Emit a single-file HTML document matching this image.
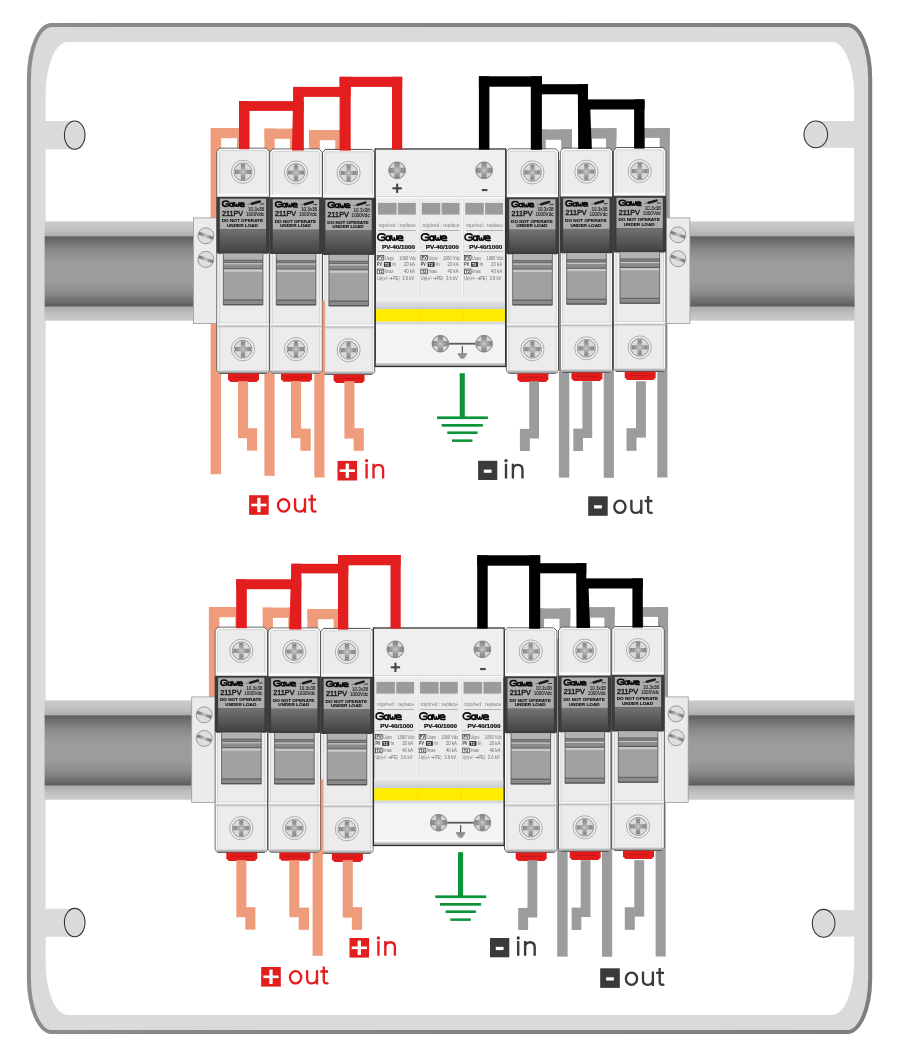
<!DOCTYPE html>
<html><head><meta charset="utf-8"><title>Fuse / SPD wiring diagram</title>
<style>html,body{margin:0;padding:0;background:#fff}svg{display:block}text{font-family:"Liberation Sans",sans-serif}.lbl{font-family:"Liberation Sans",sans-serif}</style></head><body>
<svg style="will-change:transform" width="900" height="1055" viewBox="0 0 900 1055">
<defs>
<linearGradient id="frG" x1="0" y1="0" x2="1" y2="0"><stop offset="0" stop-color="#8c8c8c"/><stop offset="0.5" stop-color="#848484"/><stop offset="1" stop-color="#7e7e7e"/></linearGradient>
<linearGradient id="flT" x1="0" y1="0" x2="0" y2="1"><stop offset="0" stop-color="#cbcbcb"/><stop offset="0.5" stop-color="#c2c2c2"/><stop offset="1" stop-color="#adadad"/></linearGradient>
<linearGradient id="flB" x1="0" y1="0" x2="0" y2="1"><stop offset="0" stop-color="#aaaaaa"/><stop offset="0.5" stop-color="#c0c0c0"/><stop offset="1" stop-color="#cbcbcb"/></linearGradient>
<linearGradient id="railCore" x1="0" y1="0" x2="0" y2="1">
<stop offset="0" stop-color="#5c5c5c"/><stop offset="0.07" stop-color="#6f6e6d"/><stop offset="0.2" stop-color="#8a8988"/><stop offset="0.36" stop-color="#9b9b9b"/><stop offset="0.64" stop-color="#9c9c9c"/><stop offset="0.8" stop-color="#8d8b8a"/><stop offset="0.93" stop-color="#6f6d6b"/><stop offset="1" stop-color="#585858"/></linearGradient>
<linearGradient id="hdlG" x1="0" y1="0" x2="0" y2="1"><stop offset="0" stop-color="#727272"/><stop offset="1" stop-color="#434343"/></linearGradient>
<linearGradient id="divG" x1="0" y1="0" x2="0" y2="1"><stop offset="0" stop-color="#b2b2b2"/><stop offset="1" stop-color="#e6e6e6"/></linearGradient>
<linearGradient id="botG" x1="0" y1="0" x2="0" y2="1"><stop offset="0" stop-color="#ececec"/><stop offset="1" stop-color="#8f8f8f"/></linearGradient>
<linearGradient id="spdBand" x1="0" y1="0" x2="0" y2="1"><stop offset="0" stop-color="#e7e7e7"/><stop offset="1" stop-color="#c6cad0"/></linearGradient>
<radialGradient id="scrG" cx="0.5" cy="0.5" r="0.5"><stop offset="0" stop-color="#d6d6d6"/><stop offset="1" stop-color="#c2c2c2"/></radialGradient>
<radialGradient id="scr2G" cx="0.5" cy="0.5" r="0.5"><stop offset="0" stop-color="#c4c4c4"/><stop offset="0.8" stop-color="#a6a6a6"/><stop offset="1" stop-color="#8e8e8e"/></radialGradient>

<filter id="bl" x="-20%" y="-20%" width="140%" height="140%"><feGaussianBlur stdDeviation="0.38"/></filter>
<radialGradient id="crG" gradientUnits="userSpaceOnUse" cx="0" cy="0" r="8.2"><stop offset="0" stop-color="#c8c8c8"/><stop offset="0.3" stop-color="#adadad"/><stop offset="0.62" stop-color="#939393"/><stop offset="1" stop-color="#878787"/></radialGradient>
<clipPath id="c9"><circle r="8.6"/></clipPath>
<clipPath id="c8"><circle r="8.3"/></clipPath>
<g id="scr">
<circle r="11.6" fill="#efefef" stroke="#a4a4a4" stroke-width="0.9"/>
<circle r="9" fill="#dadada" stroke="#949494" stroke-width="1"/>
<g clip-path="url(#c9)"><path filter="url(#bl)" d="M-2.1,-8 h4.2 v5.9 h5.9 v4.2 h-5.9 v5.9 h-4.2 v-5.9 h-5.9 v-4.2 h5.9z" fill="url(#crG)"/></g>
</g>
<g id="scr2">
<circle r="8.7" fill="#d6d6d6"/>
<g clip-path="url(#c8)"><path filter="url(#bl)" d="M-2.6,-9 h5.2 v6.4 h6.4 v5.2 h-6.4 v6.4 h-5.2 v-6.4 h-6.4 v-5.2 h6.4z" fill="url(#crG)"/></g>
<circle r="8.3" fill="none" stroke="#858585" stroke-width="1"/>
</g>
<linearGradient id="slG" gradientUnits="userSpaceOnUse" x1="-7" y1="-2.6" x2="7" y2="2.6"><stop offset="0" stop-color="#6e6e6e"/><stop offset="0.3" stop-color="#9a9a9a"/><stop offset="0.5" stop-color="#c8c8c8"/><stop offset="0.7" stop-color="#9a9a9a"/><stop offset="1" stop-color="#6e6e6e"/></linearGradient>
<clipPath id="c7"><circle r="7.4"/></clipPath>
<g id="slot">
<circle r="8" fill="#dedede" stroke="#989898" stroke-width="1"/>
<g clip-path="url(#c7)"><path filter="url(#bl)" d="M-8,-4.6 L8.4,1.2 L7.4,4.2 L-9,-1.6 Z" fill="url(#slG)"/></g>
</g>

<g id="fuse">
<path d="M3,0 H49.2 L52.2,3 V222.6 L49.6,225.2 H2.6 L0,222.6 V3 Z" fill="#ececec" stroke="#4c4c4c" stroke-width="1"/>
<path d="M3.4,1.25 H48.8 L50.95,3.4 V222.1 L49.1,223.95 H3.1 L1.25,222.1 V3.4 Z" fill="none" stroke="#fafafa" stroke-width="1.5"/>
<path d="M3.9,2.4 H48.3 L49.8,3.9 V221.6 L48.6,222.8 H3.6 L2.4,221.6 V3.9 Z" fill="none" stroke="#bcbcbc" stroke-width="0.55"/>
<rect x="0.8" y="45.4" width="50.6" height="3.2" fill="#f9f9f9"/>
<use href="#scr" x="26.1" y="23.6"/>
<path d="M-0.3,48.5 H52.5 V103.4 Q52.5,105.6 50.3,105.6 H1.9 Q-0.3,105.6 -0.3,103.4 Z" fill="#3b3b3b"/>
<rect x="2.9" y="50.5" width="46.3" height="30.6" fill="#adadad"/>
<rect x="2.9" y="81.1" width="46.3" height="22.8" fill="url(#hdlG)"/>
<g fill="#111">
<use href="#logo" stroke-width="1.85" transform="translate(5,58.7) scale(0.865,0.82)"/>
<text x="5.1" y="67.6" font-size="7.1" fill="#1a1a1a" stroke="#1a1a1a" stroke-width="0.42" textLength="21.2" lengthAdjust="spacingAndGlyphs">211PV</text>
<text x="31.1" y="62.7" font-size="4.7" fill="#161616" stroke="#161616" stroke-width="0.08" textLength="16.1" lengthAdjust="spacingAndGlyphs">10.3x38</text>
<text x="29.1" y="67.7" font-size="4.7" fill="#161616" stroke="#161616" stroke-width="0.08" textLength="18.1" lengthAdjust="spacingAndGlyphs">1000Vdc</text>
<text x="4.8" y="74.2" font-size="4.3" font-weight="bold" stroke="#111" stroke-width="0.12" textLength="41.4" lengthAdjust="spacingAndGlyphs">DO NOT OPERATE</text>
<text x="10.1" y="78.75" font-size="4.3" font-weight="bold" stroke="#111" stroke-width="0.12" textLength="31" lengthAdjust="spacingAndGlyphs">UNDER LOAD</text>
<path d="M30.8,56.2 L35,55.6" stroke="#555" stroke-width="0.7" fill="none"/>
<path d="M35,55.5 L42.8,53.3" stroke="#1c1c1c" stroke-width="2.5" stroke-linecap="round" fill="none"/>
<path d="M43.4,55.9 L47.3,55.7" stroke="#333" stroke-width="1" fill="none"/>
</g>
<rect x="6.4" y="105.6" width="39.6" height="51.2" fill="#a1a1a1"/>
<rect x="6.4" y="105.6" width="39.6" height="6" fill="#b2b2b2"/>
<rect x="6.4" y="111.5" width="39.6" height="3.5" fill="#6a6a6a"/>
<rect x="6.4" y="112.9" width="39.6" height="0.7" fill="#909090"/>
<rect x="6.4" y="115" width="39.6" height="1.3" fill="#c9c9c9"/>
<rect x="6.4" y="116.3" width="39.6" height="3.7" fill="#8b8b8b"/>
<rect x="6.4" y="120" width="39.6" height="1.2" fill="#5a5a5a"/>
<rect x="6.4" y="121.2" width="39.6" height="2.3" fill="#c9c9c9"/>
<rect x="6.4" y="151.1" width="39.6" height="1.6" fill="#686868"/>
<rect x="6.4" y="152.7" width="39.6" height="3.1" fill="#8b8b8b"/>
<rect x="6.4" y="155.8" width="39.6" height="1" fill="#555"/>
<path d="M6.4,105.6 V156.8 H46 V105.6" fill="none" stroke="#565656" stroke-width="0.8"/>
<rect x="0.5" y="174.6" width="51.2" height="0.6" fill="#b8b8b8"/>
<rect x="0.5" y="175.2" width="51.2" height="2" fill="#fafafa"/>
<rect x="0.5" y="177.2" width="51.2" height="2.6" fill="url(#divG)"/>
<use href="#scr" x="26.1" y="201"/>
<rect x="0.6" y="221.6" width="51" height="3.2" fill="url(#botG)"/>
<path d="M11.1,225.4 H42.1 V231.4 L39.6,233.9 H13.6 L11.1,231.4 Z" fill="#e31b1b"/>
<rect x="16" y="228.7" width="21.2" height="1.1" fill="#c51717"/>
</g>

<g id="spdmod">
<rect x="2.9" y="53.8" width="18.5" height="11.7" fill="#9b9b9b"/>
<rect x="22.7" y="53.8" width="17.9" height="11.7" fill="#9b9b9b"/>
<text x="3.5" y="77.8" font-size="4.9" fill="#808080" textLength="37.1" lengthAdjust="spacingAndGlyphs">rojo/red : replace</text>
<rect x="3.5" y="81.2" width="37.1" height="0.6" fill="#8c8c8c"/>
<use href="#logo" stroke-width="1.62" x="1.9" y="91.9"/>
<text x="6.8" y="100.3" font-size="5.5" font-weight="bold" fill="#111" stroke="#111" stroke-width="0.22" textLength="33.1" lengthAdjust="spacingAndGlyphs">PV-40/1000</text>
<rect x="2" y="102" width="38.6" height="0.6" fill="#9a9a9a"/>
<g font-size="4.5" fill="#6f6f6f">
<rect x="2" y="106.3" width="6.6" height="4.6" fill="#f4f4f4" stroke="#333" stroke-width="0.7"/>
<text x="2.9" y="110.1" font-size="3.8" font-weight="bold" fill="#222">PV</text>
<text x="9.7" y="110.6" textLength="9" lengthAdjust="spacingAndGlyphs">Uopv</text>
<text x="24" y="110.6" textLength="17" lengthAdjust="spacingAndGlyphs">1060 Vdc</text>
<text x="1.9" y="117.4" font-weight="bold" fill="#333" textLength="4.8" lengthAdjust="spacingAndGlyphs">PV</text>
<rect x="8.7" y="113" width="7" height="4.7" fill="#333"/>
<text x="9.6" y="116.8" font-size="3.8" font-weight="bold" fill="#fff">T2</text>
<text x="17" y="117.4">In</text>
<text x="28.7" y="117.4" textLength="11" lengthAdjust="spacingAndGlyphs">20 kA</text>
<rect x="2" y="120" width="6.6" height="4.7" fill="#f4f4f4" stroke="#333" stroke-width="0.7"/>
<text x="3" y="123.8" font-size="3.8" font-weight="bold" fill="#222">T2</text>
<text x="9.7" y="124.3" textLength="8.7" lengthAdjust="spacingAndGlyphs">Imax</text>
<text x="28.7" y="124.3" textLength="11" lengthAdjust="spacingAndGlyphs">40 kA</text>
<text x="1.9" y="130.6" textLength="22.5" lengthAdjust="spacingAndGlyphs">Up(+/- ➔PE)</text>
<text x="27" y="130.6" textLength="12" lengthAdjust="spacingAndGlyphs">3.6 kV</text>
</g>
</g>

<g id="spd">
<rect x="0" y="0" width="130.5" height="217.3" fill="#ebebeb" stroke="#2e2e2e" stroke-width="1.5"/>
<rect x="0.6" y="0.6" width="129.3" height="46.6" fill="#efefef"/>
<rect x="0.6" y="47.2" width="129.3" height="0.7" fill="#cfcfcf"/>
<rect x="0.6" y="47.9" width="129.3" height="1.2" fill="#f8f8f8"/>
<use href="#scr2" x="21.9" y="21.2"/>
<use href="#scr2" x="108.9" y="21.2"/>
<rect x="17.3" y="38.15" width="9.3" height="2.1" fill="#454545"/><rect x="20.9" y="34.55" width="2.1" height="9.3" fill="#454545"/>
<rect x="106.6" y="39.9" width="5.6" height="2.1" fill="#484848"/>
<rect x="43.3" y="48" width="1.3" height="112" fill="#f7f7f7"/><rect x="44.3" y="48" width="0.4" height="112" fill="#c9c9c9"/>
<rect x="86.8" y="48" width="1.3" height="112" fill="#f7f7f7"/><rect x="87.8" y="48" width="0.4" height="112" fill="#c9c9c9"/>
<use href="#spdmod" x="0" y="0"/><use href="#spdmod" x="43.7" y="0"/><use href="#spdmod" x="87.2" y="0"/>
<rect x="0.75" y="150.6" width="129" height="0.8" fill="#f8f8f8"/><rect x="0.75" y="151.4" width="129" height="8.7" fill="url(#spdBand)"/>
<rect x="0.75" y="160" width="129" height="12.6" fill="#ffec00"/>
<rect x="43.9" y="160.1" width="0.5" height="12.5" fill="#ecd900"/><rect x="87.4" y="160.1" width="0.5" height="12.5" fill="#ecd900"/>
<rect x="0.75" y="175.2" width="129" height="36.6" fill="#f3f3f3"/><rect x="0.75" y="172.6" width="129" height="2.6" fill="#d5d9e0"/>
<rect x="65.2" y="193.7" width="43.7" height="1.8" fill="#5c5c5c"/>
<use href="#scr2" x="65.2" y="194.6"/>
<use href="#scr2" x="108.9" y="194.6"/>
<rect x="86.6" y="197" width="1.1" height="7.6" fill="#484848"/>
<rect x="82.6" y="204.2" width="9.1" height="1.5" fill="#757575"/><rect x="83.6" y="206.1" width="7.1" height="1.6" fill="#7d7d7d"/><rect x="84.9" y="208" width="4.4" height="1.5" fill="#858585"/>
<rect x="0.6" y="211.7" width="129.3" height="1.8" fill="#fbfbfb"/>
<rect x="0.6" y="213.5" width="129.3" height="3.3" fill="url(#botG)"/>
</g>
<g id="wIn" fill="none" stroke="currentColor" stroke-width="2.35">
<path d="M1.2,-14.7 V0 M8.1,-14.7 V0 M8.1,-8.4 C8.1,-11.9 10.3,-13.5 13,-13.5 C15.8,-13.5 17.7,-11.9 17.7,-8.4 V0"/>
<circle cx="1.2" cy="-17.7" r="1.65" stroke="none" fill="currentColor"/>
</g>
<g id="wOut" fill="none" stroke="currentColor" stroke-width="2.35">
<ellipse cx="6.8" cy="-7.3" rx="5.6" ry="6.15"/>
<path d="M18.3,-14.4 V-5.8 C18.3,-2.7 20.2,-1.15 22.9,-1.15 C25.8,-1.15 28.2,-3.2 28.2,-6.6 M28.2,-14.4 V0"/>
<path d="M35,-18 V-4.2 C35,-2 36.1,-1.15 37.6,-1.15 C38.4,-1.15 39,-1.35 39.5,-1.7 M31.5,-13.1 H39.3"/>
</g>
<g id="logo" fill="none" stroke="#0a0a0a" stroke-linecap="round" stroke-linejoin="round">
<path d="M7.9,-5.9 C6.9,-6.9 5.6,-7.1 4.3,-7.1 C1.9,-7.1 0.7,-5.6 0.7,-3.8 C0.7,-1.9 1.9,-0.65 4.3,-0.65 C5.8,-0.65 7,-0.8 7.8,-1.4 V-3.6 H4.7"/>
<ellipse cx="10.9" cy="-2.75" rx="1.95" ry="2.1"/><path d="M13.2,-5.1 V-0.5"/>
<path d="M14.6,-5.1 C14.6,-2.2 15.2,-0.8 16.1,-0.8 C16.9,-0.8 17.2,-2 17.2,-3.2 C17.2,-2 17.6,-0.8 18.4,-0.8 C19.3,-0.8 19.8,-2.4 19.8,-5.1"/>
<path d="M20.5,-2.85 H25.7 C25.7,-4.4 24.7,-5.1 23.2,-5.1 C21.5,-5.1 20.5,-4.2 20.5,-2.85 C20.5,-1.35 21.5,-0.65 23.2,-0.65 H25.9"/>
</g>
</defs>

<rect x="0.00" y="0.00" width="900.00" height="1055.00" fill="#fff" />
<rect x="26.9" y="22.9" width="845.3" height="1011" rx="24.5" ry="55" fill="url(#frG)"/>
<rect x="30.95" y="26.9" width="837.2" height="1003.2" rx="21" ry="51.5" fill="#dadada"/>
<rect x="45.6" y="41.9" width="808.5" height="973" rx="22" ry="53" fill="#fff"/>
<rect x="44.00" y="121.00" width="30.70" height="28.30" fill="#dadada" />
<ellipse cx="74.7" cy="135.1" rx="10.3" ry="14.2" fill="#dadada" stroke="#303030" stroke-width="1.05"/>
<rect x="815.80" y="121.00" width="39.20" height="26.80" fill="#dadada" />
<ellipse cx="815.8" cy="134.4" rx="11.8" ry="13.3" fill="#dadada" stroke="#303030" stroke-width="1.05"/>
<rect x="44.00" y="908.80" width="30.70" height="28.00" fill="#dadada" />
<ellipse cx="74.7" cy="922.6" rx="10.3" ry="14.2" fill="#dadada" stroke="#303030" stroke-width="1.05"/>
<rect x="823.60" y="910.10" width="31.40" height="26.50" fill="#dadada" />
<ellipse cx="823.6" cy="923.3" rx="11.3" ry="13.9" fill="#dadada" stroke="#303030" stroke-width="1.05"/>
<g id="asmTop"><rect x="44.60" y="221.40" width="149.40" height="14.80" fill="url(#flT)" /><rect x="44.60" y="236.20" width="149.40" height="70.60" fill="url(#railCore)" /><rect x="44.60" y="306.80" width="149.40" height="13.90" fill="url(#flB)" />
<rect x="689.50" y="221.40" width="165.10" height="14.80" fill="url(#flT)" /><rect x="689.50" y="236.20" width="165.10" height="70.60" fill="url(#railCore)" /><rect x="689.50" y="306.80" width="165.10" height="13.90" fill="url(#flB)" />
<rect x="211.00" y="128.00" width="36.00" height="10.20" fill="#ef9c7d" />
<rect x="237.00" y="128.00" width="10.00" height="22.00" fill="#ef9c7d" />
<rect x="264.50" y="128.60" width="35.50" height="10.20" fill="#ef9c7d" />
<rect x="290.00" y="128.60" width="10.00" height="21.40" fill="#ef9c7d" />
<rect x="309.10" y="130.00" width="36.90" height="10.20" fill="#ef9c7d" />
<rect x="335.30" y="130.00" width="10.70" height="21.00" fill="#ef9c7d" />
<rect x="210.60" y="128.00" width="10.50" height="346.20" fill="#ef9c7d" />
<rect x="264.40" y="128.60" width="10.20" height="347.20" fill="#ef9c7d" />
<rect x="309.10" y="130.00" width="10.70" height="170.00" fill="#ef9c7d" />
<rect x="314.30" y="296.00" width="10.20" height="181.50" fill="#ef9c7d" />
<rect x="535.50" y="129.40" width="36.50" height="10.40" fill="#9c9c9c" />
<rect x="535.50" y="129.40" width="10.30" height="20.60" fill="#9c9c9c" />
<rect x="561.20" y="129.40" width="10.80" height="40.60" fill="#9c9c9c" />
<rect x="558.90" y="160.00" width="10.40" height="317.60" fill="#9c9c9c" />
<rect x="582.00" y="128.10" width="34.40" height="10.50" fill="#9c9c9c" />
<rect x="582.00" y="128.10" width="10.00" height="21.90" fill="#9c9c9c" />
<rect x="606.10" y="128.10" width="10.30" height="41.90" fill="#9c9c9c" />
<rect x="603.70" y="160.00" width="10.20" height="317.80" fill="#9c9c9c" />
<rect x="636.00" y="128.10" width="33.80" height="9.80" fill="#9c9c9c" />
<rect x="636.00" y="128.10" width="9.00" height="21.90" fill="#9c9c9c" />
<rect x="659.70" y="128.10" width="10.10" height="111.90" fill="#9c9c9c" />
<rect x="657.30" y="230.00" width="10.10" height="247.50" fill="#9c9c9c" />
<rect x="193.4" y="217.9" width="24.10" height="105.6" fill="#ebebeb" stroke="#9a9a9a" stroke-width="0.8"/><use href="#slot" transform="translate(205.9,235.8) scale(1.000)"/><use href="#slot" transform="translate(205.9,259.4) scale(1.000)"/>
<rect x="666.1" y="217.9" width="23.80" height="105.6" fill="#ebebeb" stroke="#9a9a9a" stroke-width="0.8"/><use href="#slot" transform="translate(677.9,234.8) scale(1.000)"/><use href="#slot" transform="translate(677.9,258.7) scale(1.000)"/>
<use href="#fuse" transform="translate(216.9,148.2) scale(1,1)"/>
<use href="#fuse" transform="translate(269.9,149.0) scale(1,0.9955)"/>
<use href="#fuse" transform="translate(322.5,149.4) scale(1,0.999)"/>
<use href="#fuse" transform="translate(506.3,148.9) scale(1,0.9965)"/>
<use href="#fuse" transform="translate(560.3,148.2) scale(1,0.9955)"/>
<use href="#fuse" transform="translate(613.6,147.6) scale(1,0.994)"/>
<use href="#spd" x="375.2" y="149.1"/>
<rect x="322.40" y="300.60" width="2.50" height="75.40" fill="#ef9c7d" />
<rect x="239.00" y="101.10" width="10.50" height="48.10" fill="#e31e1e" />
<rect x="239.00" y="101.10" width="64.80" height="9.80" fill="#e31e1e" />
<path d="M293.3,86.9 H303.8 V150.4 H292 Z" fill="#e31e1e"/>
<rect x="293.30" y="86.90" width="57.40" height="10.00" fill="#e31e1e" />
<rect x="339.60" y="76.80" width="11.10" height="73.80" fill="#e31e1e" />
<rect x="339.60" y="76.80" width="62.60" height="10.10" fill="#e31e1e" />
<rect x="392.00" y="76.80" width="10.20" height="72.80" fill="#e31e1e" />
<rect x="478.90" y="76.30" width="10.50" height="73.30" fill="#000" />
<rect x="478.90" y="76.30" width="63.00" height="10.40" fill="#000" />
<rect x="530.80" y="76.30" width="11.10" height="73.50" fill="#000" />
<rect x="541.00" y="84.20" width="47.00" height="10.10" fill="#000" />
<path d="M577.8,84.2 H588 V109 H590.3 L591.7,149 H578.2 Z" fill="#000"/>
<rect x="586.00" y="99.40" width="58.50" height="10.10" fill="#000" />
<rect x="634.10" y="99.40" width="10.40" height="49.20" fill="#000" />
<rect x="238.00" y="381.20" width="10.10" height="57.00" fill="#ef9c7d" />
<rect x="247.00" y="428.20" width="10.10" height="22.40" fill="#ef9c7d" />
<rect x="291.00" y="381.20" width="10.10" height="57.00" fill="#ef9c7d" />
<rect x="300.40" y="428.60" width="10.30" height="22.20" fill="#ef9c7d" />
<rect x="344.40" y="381.20" width="10.10" height="57.40" fill="#ef9c7d" />
<rect x="353.60" y="428.20" width="10.20" height="22.60" fill="#ef9c7d" />
<rect x="529.20" y="381.20" width="9.80" height="57.30" fill="#9c9c9c" />
<rect x="519.90" y="428.90" width="9.90" height="22.10" fill="#9c9c9c" />
<rect x="582.40" y="381.20" width="9.80" height="56.80" fill="#9c9c9c" />
<rect x="573.30" y="428.60" width="9.70" height="22.40" fill="#9c9c9c" />
<rect x="636.00" y="381.20" width="9.90" height="56.40" fill="#9c9c9c" />
<rect x="626.50" y="428.20" width="10.00" height="22.60" fill="#9c9c9c" />
<rect x="459.70" y="373.20" width="5.10" height="44.80" fill="#0c9438" />
<rect x="437.00" y="416.40" width="50.90" height="2.70" fill="#0c9438" />
<rect x="441.60" y="424.00" width="41.20" height="2.70" fill="#0c9438" />
<rect x="447.30" y="431.40" width="30.30" height="2.60" fill="#0c9438" />
<rect x="452.00" y="439.40" width="20.50" height="2.50" fill="#0c9438" /></g>
<g id="asmBot" transform="translate(-1.7,479)"><rect x="46.30" y="221.40" width="147.70" height="14.80" fill="url(#flT)" /><rect x="46.30" y="236.20" width="147.70" height="70.60" fill="url(#railCore)" /><rect x="46.30" y="306.80" width="147.70" height="13.90" fill="url(#flB)" />
<rect x="689.50" y="221.40" width="166.80" height="14.80" fill="url(#flT)" /><rect x="689.50" y="236.20" width="166.80" height="70.60" fill="url(#railCore)" /><rect x="689.50" y="306.80" width="166.80" height="13.90" fill="url(#flB)" />
<rect x="211.00" y="128.00" width="36.00" height="10.20" fill="#ef9c7d" />
<rect x="237.00" y="128.00" width="10.00" height="22.00" fill="#ef9c7d" />
<rect x="264.50" y="128.60" width="35.50" height="10.20" fill="#ef9c7d" />
<rect x="290.00" y="128.60" width="10.00" height="21.40" fill="#ef9c7d" />
<rect x="309.10" y="130.00" width="36.90" height="10.20" fill="#ef9c7d" />
<rect x="335.30" y="130.00" width="10.70" height="21.00" fill="#ef9c7d" />
<rect x="210.60" y="128.00" width="10.50" height="172.00" fill="#ef9c7d" />
<rect x="264.40" y="128.60" width="10.20" height="171.40" fill="#ef9c7d" />
<rect x="309.10" y="130.00" width="10.70" height="170.00" fill="#ef9c7d" />
<rect x="314.30" y="296.00" width="10.20" height="180.80" fill="#ef9c7d" />
<rect x="535.50" y="129.40" width="36.50" height="10.40" fill="#9c9c9c" />
<rect x="535.50" y="129.40" width="10.30" height="20.60" fill="#9c9c9c" />
<rect x="561.20" y="129.40" width="10.80" height="40.60" fill="#9c9c9c" />
<rect x="558.90" y="160.00" width="10.40" height="317.60" fill="#9c9c9c" />
<rect x="582.00" y="128.10" width="34.40" height="10.50" fill="#9c9c9c" />
<rect x="582.00" y="128.10" width="10.00" height="21.90" fill="#9c9c9c" />
<rect x="606.10" y="128.10" width="10.30" height="41.90" fill="#9c9c9c" />
<rect x="603.70" y="160.00" width="10.20" height="317.80" fill="#9c9c9c" />
<rect x="636.00" y="128.10" width="33.80" height="9.80" fill="#9c9c9c" />
<rect x="636.00" y="128.10" width="9.00" height="21.90" fill="#9c9c9c" />
<rect x="659.70" y="128.10" width="10.10" height="111.90" fill="#9c9c9c" />
<rect x="657.30" y="230.00" width="10.10" height="247.50" fill="#9c9c9c" />
<rect x="193.4" y="217.9" width="24.10" height="105.6" fill="#ebebeb" stroke="#9a9a9a" stroke-width="0.8"/><use href="#slot" transform="translate(205.9,235.8) scale(1.000)"/><use href="#slot" transform="translate(205.9,259.4) scale(1.000)"/>
<rect x="666.1" y="217.9" width="23.80" height="105.6" fill="#ebebeb" stroke="#9a9a9a" stroke-width="0.8"/><use href="#slot" transform="translate(677.9,234.8) scale(1.000)"/><use href="#slot" transform="translate(677.9,258.7) scale(1.000)"/>
<use href="#fuse" transform="translate(216.9,148.2) scale(1,1)"/>
<use href="#fuse" transform="translate(269.9,149.0) scale(1,0.9955)"/>
<use href="#fuse" transform="translate(322.5,149.4) scale(1,0.999)"/>
<use href="#fuse" transform="translate(506.3,148.9) scale(1,0.9965)"/>
<use href="#fuse" transform="translate(560.3,148.2) scale(1,0.9955)"/>
<use href="#fuse" transform="translate(613.6,147.6) scale(1,0.994)"/>
<use href="#spd" x="375.2" y="149.1"/>
<rect x="322.40" y="300.60" width="2.50" height="75.40" fill="#ef9c7d" />
<rect x="237.90" y="100.30" width="10.60" height="48.90" fill="#e31e1e" />
<rect x="237.90" y="100.30" width="65.10" height="9.90" fill="#e31e1e" />
<path d="M293.1,84.8 H303.1 V150.4 H291 Z" fill="#e31e1e"/>
<rect x="293.10" y="84.80" width="56.90" height="9.60" fill="#e31e1e" />
<rect x="339.70" y="76.00" width="10.30" height="74.60" fill="#e31e1e" />
<rect x="339.70" y="76.00" width="62.70" height="10.30" fill="#e31e1e" />
<rect x="392.20" y="76.00" width="10.20" height="73.60" fill="#e31e1e" />
<rect x="478.90" y="76.30" width="10.50" height="73.30" fill="#000" />
<rect x="478.90" y="76.30" width="63.00" height="10.40" fill="#000" />
<rect x="530.80" y="76.30" width="11.10" height="73.50" fill="#000" />
<rect x="541.00" y="84.20" width="47.00" height="10.10" fill="#000" />
<path d="M577.8,84.2 H588 V109 H590.3 L591.7,149 H578.2 Z" fill="#000"/>
<rect x="586.00" y="99.40" width="58.50" height="10.10" fill="#000" />
<rect x="634.10" y="99.40" width="10.40" height="49.20" fill="#000" />
<rect x="238.00" y="381.20" width="10.10" height="57.00" fill="#ef9c7d" />
<rect x="247.00" y="428.20" width="10.10" height="22.40" fill="#ef9c7d" />
<rect x="291.00" y="381.20" width="10.10" height="57.00" fill="#ef9c7d" />
<rect x="300.40" y="428.60" width="10.30" height="22.20" fill="#ef9c7d" />
<rect x="344.40" y="381.20" width="10.10" height="57.40" fill="#ef9c7d" />
<rect x="353.60" y="428.20" width="10.20" height="22.60" fill="#ef9c7d" />
<rect x="529.20" y="381.20" width="9.80" height="57.30" fill="#9c9c9c" />
<rect x="519.90" y="428.90" width="9.90" height="22.10" fill="#9c9c9c" />
<rect x="582.40" y="381.20" width="9.80" height="56.80" fill="#9c9c9c" />
<rect x="573.30" y="428.60" width="9.70" height="22.40" fill="#9c9c9c" />
<rect x="636.00" y="381.20" width="9.90" height="56.40" fill="#9c9c9c" />
<rect x="626.50" y="428.20" width="10.00" height="22.60" fill="#9c9c9c" />
<rect x="459.70" y="373.20" width="5.10" height="44.80" fill="#0c9438" />
<rect x="437.00" y="416.40" width="50.90" height="2.70" fill="#0c9438" />
<rect x="441.60" y="424.00" width="41.20" height="2.70" fill="#0c9438" />
<rect x="447.30" y="431.40" width="30.30" height="2.60" fill="#0c9438" />
<rect x="452.00" y="439.40" width="20.50" height="2.50" fill="#0c9438" /></g>
<rect x="337.50" y="460.90" width="19.60" height="19.60" fill="#e31e1e" /><rect x="339.70" y="469.40" width="15.20" height="2.60" fill="#fff" /><rect x="345.65" y="463.50" width="3.30" height="14.40" fill="#fff" /><use href="#wIn" x="365.4" y="478.4" style="color:#e31e1e"/>
<rect x="249.10" y="495.20" width="19.60" height="19.60" fill="#e31e1e" /><rect x="251.30" y="503.70" width="15.20" height="2.60" fill="#fff" /><rect x="257.25" y="497.80" width="3.30" height="14.40" fill="#fff" /><use href="#wOut" x="276.8" y="512.7" style="color:#e31e1e"/>
<rect x="478.10" y="460.80" width="19.20" height="19.20" fill="#3a3a3a" /><rect x="483.80" y="469.60" width="7.80" height="3.20" fill="#fff" /><use href="#wIn" x="504.8" y="478.4" style="color:#3a3a3a"/>
<rect x="588.20" y="496.30" width="19.50" height="19.50" fill="#3a3a3a" /><rect x="594.05" y="505.25" width="7.80" height="3.20" fill="#fff" /><use href="#wOut" x="613.1" y="514.1" style="color:#3a3a3a"/>
<rect x="349.50" y="938.00" width="19.60" height="19.60" fill="#e31e1e" /><rect x="351.70" y="946.50" width="15.20" height="2.60" fill="#fff" /><rect x="357.65" y="940.60" width="3.30" height="14.40" fill="#fff" /><use href="#wIn" x="377.2" y="955.7" style="color:#e31e1e"/>
<rect x="261.20" y="967.00" width="19.60" height="19.60" fill="#e31e1e" /><rect x="263.40" y="975.50" width="15.20" height="2.60" fill="#fff" /><rect x="269.35" y="969.60" width="3.30" height="14.40" fill="#fff" /><use href="#wOut" x="288.8" y="984.6" style="color:#e31e1e"/>
<rect x="490.00" y="938.00" width="19.30" height="19.30" fill="#3a3a3a" /><rect x="495.75" y="946.85" width="7.80" height="3.20" fill="#fff" /><use href="#wIn" x="517.0" y="955.7" style="color:#3a3a3a"/>
<rect x="600.20" y="968.30" width="19.60" height="19.60" fill="#3a3a3a" /><rect x="606.10" y="977.30" width="7.80" height="3.20" fill="#fff" /><use href="#wOut" x="624.7" y="986.0" style="color:#3a3a3a"/>
</svg></body></html>
